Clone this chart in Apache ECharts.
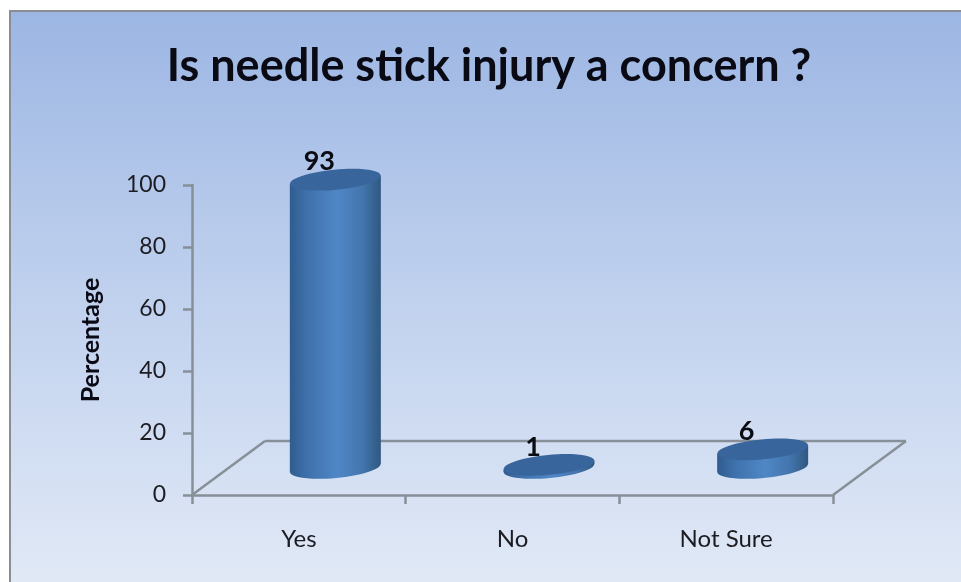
<!DOCTYPE html>
<html>
<head>
<meta charset="utf-8">
<style>html,body{margin:0;padding:0;background:#fff}#c{width:961px;height:582px}</style>
<script src="https://cdn.jsdelivr.net/npm/echarts@6/dist/echarts.min.js"></script>
</head>
<body>
<div id="c"></div>
<script>
const titleText = 'Is needle stick injury a concern ?';
const yAxisName = 'Percentage';
const categories = ['Yes', 'No', 'Not Sure'];
const values = [93, 1, 6];

const FONT = 'Lato, "Open Sans", sans-serif';
const AXIS = '#878f98';
const DX = 73, DY = -54;          // depth of the floor
const RX = 45.5, RY = 10, TILT = 0.095;

const bodyFill = {
  type: 'linear', x: 0, y: 0, x2: 1, y2: 0,
  colorStops: [
    {offset: 0, color: '#305c8e'}, {offset: 0.2, color: '#3f72ad'},
    {offset: 0.52, color: '#4f87c6'}, {offset: 0.8, color: '#4375ad'},
    {offset: 1, color: '#2f5880'}
  ]
};

function renderFloor(params, api) {
  const g = params.coordSys;
  const l = g.x, r = g.x + g.width, b = g.y + g.height;
  const st = {stroke: AXIS, lineWidth: 2.5, fill: null};
  const seg = (x1, y1, x2, y2) => ({type: 'line', shape: {x1, y1, x2, y2}, style: st});
  return {type: 'group', children: [
    seg(l, b, l + DX, b + DY),
    seg(l + DX, b + DY, r + DX, b + DY),
    seg(r + DX, b + DY, r, b)
  ]};
}

function renderCylinder(params, api) {
  const i = api.value(0), v = api.value(1);
  const top = api.coord([i, v]), base = api.coord([i, 0]);
  const cx = top[0] + DX / 2, yT = top[1] + DY / 2, yB = base[1] + DY / 2;
  const sh = RX * Math.sin(TILT);
  const ell = (cy, fill) => ({
    type: 'ellipse', x: cx, y: cy, rotation: TILT,
    shape: {cx: 0, cy: 0, rx: RX, ry: RY}, style: {fill}
  });
  return {type: 'group', children: [
    ell(yB, bodyFill),
    {type: 'polygon', shape: {points: [
      [cx - RX, yT + sh], [cx + RX, yT - sh], [cx + RX, yB - sh], [cx - RX, yB + sh]
    ]}, style: {fill: bodyFill}},
    ell(yT, '#38669c'),
    {type: 'text', x: cx - 16, y: yT - 18, style: {
      text: String(v), fill: '#0b0b12', font: 'bold 27px ' + FONT,
      textAlign: 'center', textVerticalAlign: 'middle'
    }}
  ]};
}

const chart = echarts.init(document.getElementById('c'), null, {renderer: 'canvas'});
chart.setOption({
  animation: false,
  backgroundColor: '#ffffff',
  graphic: [{
    type: 'rect', z: -10, silent: true,
    shape: {x: 10, y: 11, width: 953, height: 573},
    style: {
      stroke: '#8a8d92', lineWidth: 2,
      fill: {type: 'linear', x: 0, y: 0, x2: 0, y2: 1, colorStops: [
        {offset: 0, color: '#9cb6e3'}, {offset: 0.5, color: '#c0d1ee'}, {offset: 1, color: '#e1e9f6'}
      ]}
    }
  }],
  title: {
    text: titleText, left: 488, top: 39, textAlign: 'center',
    textStyle: {fontFamily: FONT, fontWeight: 'bold', fontSize: 45, color: '#0a0a14'}
  },
  grid: {left: 192, top: 185, width: 641, height: 310},
  xAxis: {
    type: 'category', data: categories,
    axisLine: {lineStyle: {color: AXIS, width: 2.5}},
    axisTick: {show: true, length: 9, lineStyle: {color: AXIS, width: 2.5}},
    axisLabel: {color: '#1c1c22', fontFamily: FONT, fontSize: 24, margin: 32},
    splitLine: {show: false}
  },
  yAxis: {
    type: 'value', min: 0, max: 100, interval: 20,
    name: yAxisName, nameLocation: 'middle', nameGap: 89, nameRotate: 90,
    nameTextStyle: {color: '#0a0a14', fontFamily: FONT, fontWeight: 'bold', fontSize: 25},
    axisLine: {show: true, lineStyle: {color: AXIS, width: 2.5}},
    axisTick: {show: true, length: 9, lineStyle: {color: AXIS, width: 2.5}},
    axisLabel: {color: '#1c1c22', fontFamily: FONT, fontSize: 23, margin: 26, padding: [4, 0, 0, 0]},
    splitLine: {show: false}
  },
  series: [
    {type: 'custom', z: 1, silent: true, clip: false, renderItem: renderFloor, data: [[0, 0]]},
    {type: 'custom', z: 2, clip: false, renderItem: renderCylinder,
     encode: {x: 0, y: 1}, data: values.map((v, i) => [i, v])}
  ]
});
chart.setOption({title: {left: 484}});
</script>
</body>
</html>
